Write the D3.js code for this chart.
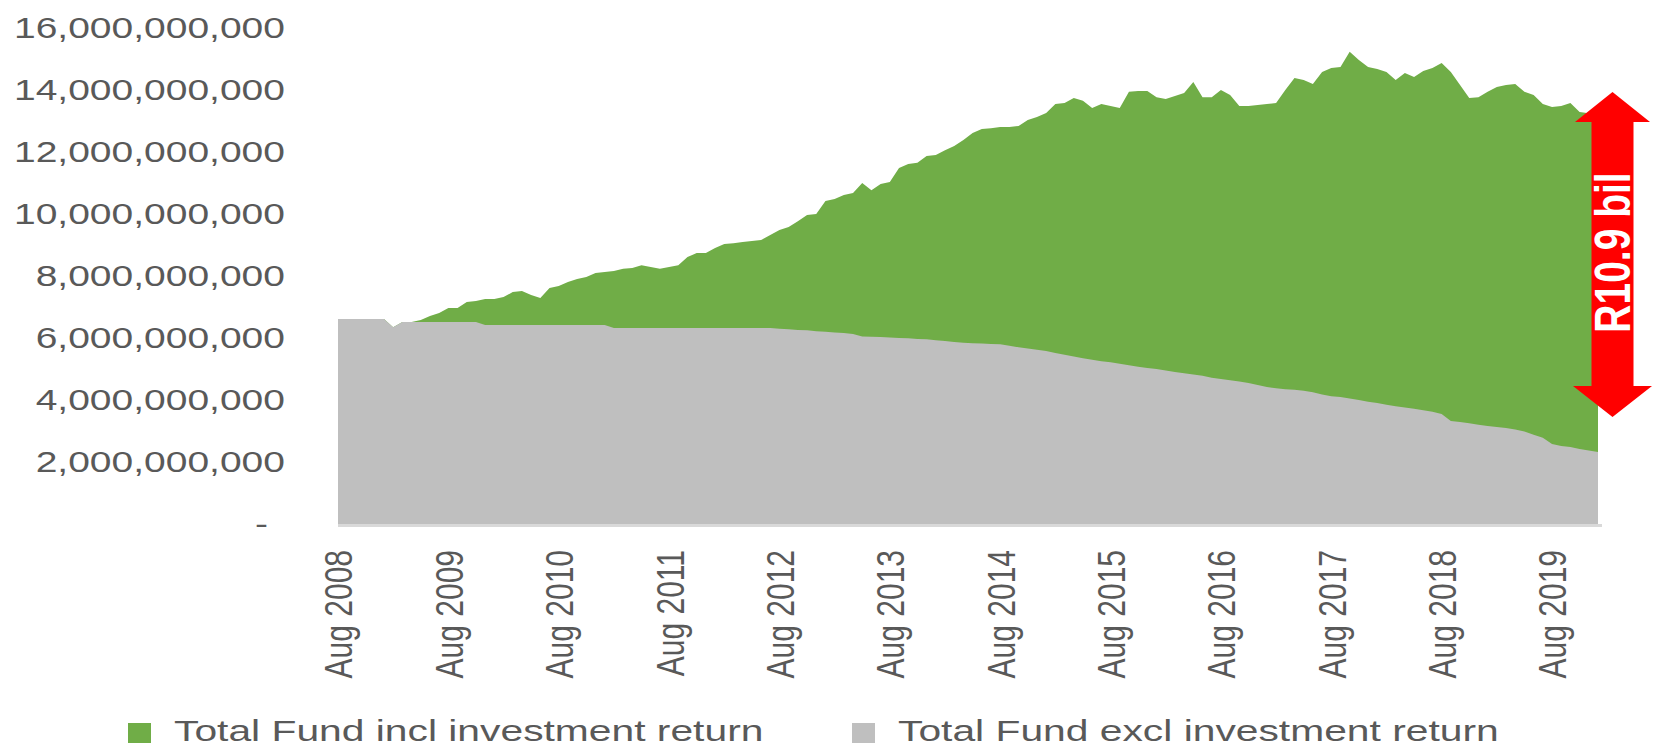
<!DOCTYPE html>
<html>
<head>
<meta charset="utf-8">
<script src="https://cdn.jsdelivr.net/npm/d3@7"></script>
<style>
  body { margin: 0; background: #fff; }
  svg { display: block; font-family: "Liberation Sans", Arial, sans-serif; }
</style>
</head>
<body>
<svg width="1653" height="749"></svg>
<script>
// monthly categories, Aug 2008 .. Jan 2020
const months = d3.timeMonth.range(new Date(2008, 7, 1), new Date(2020, 1, 1));

// values in billions of rand
const totalIncl = [
  6.61, 6.61, 6.61, 6.61, 6.61, 6.61, 6.35, 6.52, 6.52,
  6.58, 6.71, 6.81, 6.97, 6.97, 7.16, 7.19, 7.26, 7.26, 7.32, 7.48,
  7.52, 7.39, 7.29, 7.61, 7.68, 7.81, 7.90, 7.97, 8.10, 8.13,
  8.16, 8.23, 8.26, 8.35, 8.29, 8.23, 8.29, 8.35, 8.61, 8.74,
  8.74, 8.90, 9.03, 9.06, 9.10, 9.13, 9.16, 9.32, 9.48, 9.58,
  9.77, 9.97, 10.0, 10.42, 10.48, 10.61, 10.68, 11.0, 10.77, 10.97,
  11.03, 11.48, 11.61, 11.65, 11.87, 11.90, 12.06, 12.19, 12.39, 12.61,
  12.74, 12.77, 12.81, 12.81, 12.84, 13.03, 13.13, 13.26, 13.55, 13.58,
  13.74, 13.65, 13.42, 13.55, 13.48, 13.42, 13.94, 13.97, 13.97, 13.77,
  13.71, 13.81, 13.90, 14.26, 13.77, 13.77, 14.0, 13.84, 13.48, 13.48,
  13.52, 13.55, 13.58, 14.0, 14.39, 14.32, 14.19, 14.58, 14.71, 14.74,
  15.23, 14.97, 14.74, 14.68, 14.58, 14.32, 14.55, 14.42, 14.61, 14.71,
  14.87, 14.58, 14.16, 13.74, 13.77, 13.94, 14.10, 14.16, 14.19, 13.94,
  13.84, 13.55, 13.45, 13.48, 13.58, 13.29, 13.25, 13.22
];

const totalExcl = [
  6.61, 6.61, 6.61, 6.61, 6.61, 6.61, 6.35,
  6.52, 6.52, 6.52, 6.52, 6.52, 6.52, 6.52, 6.52, 6.52,
  6.42, 6.42, 6.42, 6.42, 6.42, 6.42, 6.42, 6.42, 6.42, 6.42, 6.42, 6.42, 6.42, 6.42,
  6.32, 6.32, 6.32, 6.32, 6.32, 6.32, 6.32, 6.32, 6.32, 6.32, 6.32, 6.32, 6.32, 6.32, 6.32, 6.32, 6.32, 6.32,
  6.30, 6.28, 6.26, 6.25, 6.22, 6.20, 6.18, 6.16, 6.13, 6.05,
  6.04, 6.03, 6.02, 6.00, 5.99, 5.97, 5.96, 5.93, 5.90, 5.87,
  5.85, 5.83, 5.82, 5.81, 5.80, 5.75, 5.70, 5.66, 5.62, 5.58,
  5.52, 5.46, 5.40, 5.35, 5.30, 5.25, 5.22, 5.17, 5.12, 5.07,
  5.03, 5.00, 4.95, 4.90, 4.86, 4.82, 4.78, 4.72, 4.68, 4.64,
  4.60, 4.55, 4.48, 4.42, 4.38, 4.35, 4.33, 4.30, 4.25, 4.18,
  4.12, 4.10, 4.05, 4.00, 3.94, 3.90, 3.85, 3.80, 3.76, 3.72,
  3.67, 3.62, 3.55, 3.32, 3.29, 3.25, 3.20, 3.16, 3.13, 3.10,
  3.05, 2.98, 2.88, 2.78, 2.58, 2.52, 2.48, 2.42, 2.37, 2.32
];

const yTicks = [0, 2e9, 4e9, 6e9, 8e9, 10e9, 12e9, 14e9, 16e9];
const seriesNames = ["Total Fund incl investment return", "Total Fund excl investment return"];
const seriesColors = ["#70AD47", "#BFBFBF"];
const gapLabel = "R10.9 bil";

const textColor = "#595959";
const svg = d3.select("svg");

const x = d3.scalePoint()
  .domain(d3.range(months.length))
  .range([338, 1598]);

const y = d3.scaleLinear()
  .domain([0, 16e9])
  .range([524, 28]);

const area = d3.area()
  .x((d, i) => x(i))
  .y0(y(0))
  .y1(d => y(d * 1e9));

// green first, grey drawn over it
svg.append("path")
  .datum(totalIncl)
  .attr("fill", seriesColors[0])
  .attr("d", area);

svg.append("path")
  .datum(totalExcl)
  .attr("fill", seriesColors[1])
  .attr("d", area);

// y axis labels
const fmt = d3.format(",");
const yAxis = svg.append("g")
  .attr("transform", "translate(285,0)")
  .call(d3.axisLeft(y)
    .tickValues(yTicks)
    .tickSize(0)
    .tickFormat(d => d === 0 ? "-" : fmt(d)));
yAxis.select(".domain").remove();
yAxis.selectAll("text")
  .attr("x", d => d === 0 ? -13 : 0)
  .attr("dy", null)
  .attr("y", 9)
  .attr("transform", "scale(1.3,1)")
  .attr("fill", textColor)
  .attr("font-size", 30)
  .attr("font-family", "Liberation Sans, Arial, sans-serif");

// x axis
const monthFmt = d3.timeFormat("%b %Y");
const xAxis = svg.append("g")
  .attr("transform", "translate(0,525.5)")
  .call(d3.axisBottom(x)
    .tickValues(d3.range(0, months.length, 12))
    .tickSize(0)
    .tickFormat(i => monthFmt(months[i])));
xAxis.select(".domain").remove();
xAxis.selectAll("text")
  .attr("y", 10.7)
  .attr("dy", null)
  .attr("x", 0)
  .attr("text-anchor", "end")
  .attr("transform", "translate(0,24.5) rotate(-90) scale(1,1.3)")
  .attr("fill", textColor)
  .attr("font-size", 30)
  .attr("font-family", "Liberation Sans, Arial, sans-serif");

xAxis.append("line")
  .attr("x1", x.range()[0])
  .attr("x2", x.range()[1] + 4)
  .attr("stroke", "#D9D9D9")
  .attr("stroke-width", 3);

// red double arrow with the gap
svg.append("polygon")
  .attr("fill", "#FF0000")
  .attr("points", [
    [1612.5, 92], [1650, 122], [1633.5, 122], [1633.5, 386], [1652, 386],
    [1612.5, 417], [1573, 386], [1591.5, 386], [1591.5, 122], [1575, 122]
  ].join(" "));

svg.append("text")
  .attr("transform", "translate(1612,252.5) rotate(-90) scale(1,1.3)")
  .attr("text-anchor", "middle")
  .attr("y", 14)
  .attr("fill", "#fff")
  .attr("font-size", 39)
  .attr("font-weight", "bold")
  .text(gapLabel);

// legend
const legendX = [128, 852];
const legend = svg.selectAll("g.legend")
  .data(seriesNames)
  .enter()
  .append("g")
  .attr("class", "legend")
  .attr("transform", (d, i) => "translate(" + legendX[i] + ",0)");

legend.append("rect")
  .attr("y", 723)
  .attr("width", 23)
  .attr("height", 20)
  .attr("fill", (d, i) => seriesColors[i]);

legend.append("text")
  .attr("transform", "translate(46,741) scale(1.36,1)")
  .attr("fill", textColor)
  .attr("font-size", 30)
  .text(d => d);
</script>
</body>
</html>
